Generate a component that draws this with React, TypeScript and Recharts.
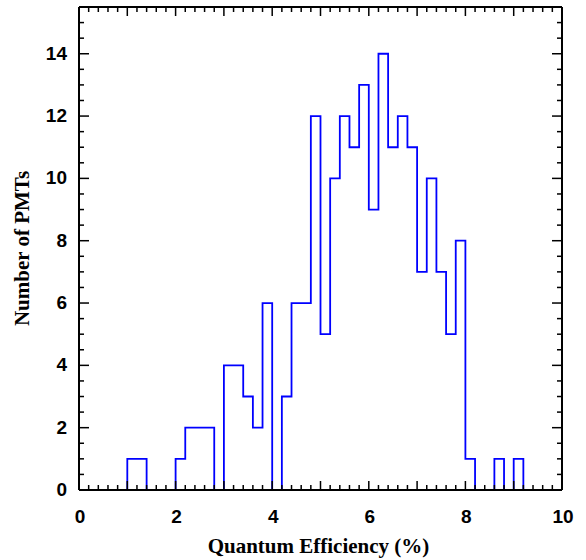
import React from 'react';
import { LineChart, Line, XAxis, YAxis } from 'recharts';

// Histogram of PMT quantum efficiency, bin width 0.2 %, bins from 0 to 10 %
const binWidth = 0.2;
const counts: number[] = [
  0, 0, 0, 0, 0, 1, 1, 0, 0, 0, // 0.0 - 2.0
  1, 2, 2, 2, 0, 4, 4, 3, 2, 6, // 2.0 - 4.0
  0, 3, 6, 6, 12, 5, 10, 12, 11, 13, // 4.0 - 6.0
  9, 14, 11, 12, 11, 7, 10, 7, 5, 8, // 6.0 - 8.0
  1, 0, 0, 1, 0, 1, 0, 0, 0, 0, // 8.0 - 10.0
];
const xLabels = [0, 2, 4, 6, 8, 10];
const yLabels = [0, 2, 4, 6, 8, 10, 12, 14];
const xTitle = 'Quantum Efficiency (%)';
const yTitle = 'Number of PMTs';

const data = [
  ...counts.map((c, i) => ({ x: Math.round(i * binWidth * 10) / 10, y: c })),
  { x: 10, y: counts[counts.length - 1] },
];

const xTicks = Array.from({ length: 51 }, (_, i) => Math.round(i * 2) / 10);
const yTicks = Array.from({ length: 32 }, (_, i) => i * 0.5);

const near = (a: number, b: number) => Math.abs(a - b) < 1e-6;
const isInt = (v: number) => near(v, Math.round(v));

const tickFont = {
  fontFamily: 'Liberation Sans, Arial, Helvetica, sans-serif',
  fontWeight: 700,
  fontSize: 19,
  fill: '#000',
};
const titleFont = {
  fontFamily: 'Liberation Serif, Times New Roman, serif',
  fontWeight: 700,
  fontSize: 21,
  fill: '#000',
};

const XTick = (props: any) => {
  const { x, y, payload, side } = props;
  const v = payload.value as number;
  const major = isInt(v);
  const len = major ? 9 : 5;
  const dir = side === 'top' ? 1 : -1;
  const showLabel = side !== 'top' && xLabels.some((l) => near(l, v));
  return (
    <g>
      <line x1={x} y1={y} x2={x} y2={y + dir * len} stroke="#000" strokeWidth={1.5} />
      {showLabel && (
        <text x={x + 1} y={y + 33} textAnchor="middle" style={tickFont}>
          {String(Math.round(v))}
        </text>
      )}
    </g>
  );
};

const YTick = (props: any) => {
  const { x, y, payload, side } = props;
  const v = payload.value as number;
  const major = near(v / 2, Math.round(v / 2));
  const len = major ? 10 : 5;
  const dir = side === 'right' ? -1 : 1;
  const showLabel = side !== 'right' && yLabels.some((l) => near(l, v));
  return (
    <g>
      <line x1={x} y1={y} x2={x + dir * len} y2={y} stroke="#000" strokeWidth={1.5} />
      {showLabel && (
        <text x={x - 12} y={y + 6} textAnchor="end" style={tickFont}>
          {String(Math.round(v))}
        </text>
      )}
    </g>
  );
};

export default function App() {
  return (
    <div style={{ position: 'absolute', left: 0, top: 0, width: 586, height: 560, background: '#fff' }}>
      <LineChart
        width={586}
        height={560}
        data={data}
        margin={{ top: 6, right: 23, bottom: 0, left: 0 }}
      >
        <Line
          type="stepAfter"
          dataKey="y"
          stroke="#0000ff"
          strokeWidth={1.8}
          dot={false}
          activeDot={false}
          isAnimationActive={false}
        />
        <XAxis
          dataKey="x"
          type="number"
          domain={[0, 10]}
          ticks={xTicks}
          interval={0}
          height={70}
          tickSize={0}
          tickMargin={0}
          tickLine={false}
          axisLine={{ stroke: '#000', strokeWidth: 2 }}
          tick={<XTick side="bottom" />}
          allowDecimals
          label={(p: any) => {
            const vb = p.viewBox || {};
            return (
              <text x={vb.x + vb.width / 2 - 2} y={vb.y + 63} textAnchor="middle" style={titleFont}>
                {xTitle}
              </text>
            );
          }}
        />
        <XAxis
          xAxisId="top"
          orientation="top"
          dataKey="x"
          type="number"
          domain={[0, 10]}
          ticks={xTicks}
          interval={0}
          height={1}
          tickSize={0}
          tickMargin={0}
          tickLine={false}
          axisLine={{ stroke: '#000', strokeWidth: 2 }}
          tick={<XTick side="top" />}
        />
        <YAxis
          type="number"
          domain={[0, 15.5]}
          ticks={yTicks}
          interval={0}
          width={79}
          tickSize={0}
          tickMargin={0}
          tickLine={false}
          axisLine={{ stroke: '#000', strokeWidth: 2 }}
          tick={<YTick side="left" />}
          allowDataOverflow
          label={(p: any) => {
            const vb = p.viewBox || {};
            const cy = vb.y + vb.height / 2;
            return (
              <text
                x={29}
                y={cy}
                textAnchor="middle"
                transform={`rotate(-90, 29, ${cy})`}
                style={titleFont}
              >
                {yTitle}
              </text>
            );
          }}
        />
        <YAxis
          yAxisId="right"
          orientation="right"
          type="number"
          domain={[0, 15.5]}
          ticks={yTicks}
          interval={0}
          width={1}
          tickSize={0}
          tickMargin={0}
          tickLine={false}
          axisLine={{ stroke: '#000', strokeWidth: 2 }}
          tick={<YTick side="right" />}
          allowDataOverflow
        />
      </LineChart>
    </div>
  );
}
